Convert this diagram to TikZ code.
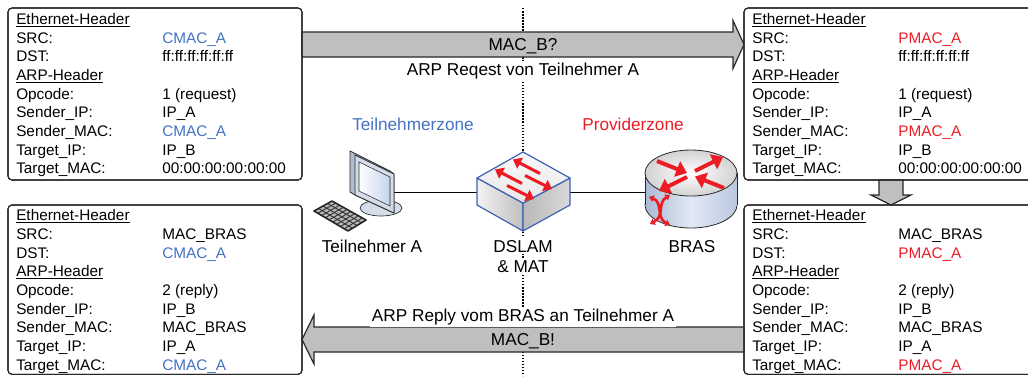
\documentclass[tikz,border=0pt]{standalone}
\usepackage{fontspec}
\setmainfont{Liberation Sans}
\usetikzlibrary{calc,arrows.meta}

\definecolor{subblue}{RGB}{68,114,196}
\definecolor{provred}{RGB}{237,28,36}
\definecolor{arrowgray}{RGB}{191,191,191}
\definecolor{framegray}{RGB}{40,40,40}
\definecolor{swblue}{RGB}{62,98,178}
\definecolor{monside}{RGB}{178,190,208}
\definecolor{monfront}{RGB}{212,220,234}
\definecolor{monscreen}{RGB}{196,212,236}
\definecolor{rtbodyL}{RGB}{170,186,212}
\definecolor{rtbodyM}{RGB}{226,233,244}
\definecolor{rtbodyR}{RGB}{186,200,224}

\newcommand{\hdr}[1]{\underline{#1}}
\newcommand{\cmac}{\textcolor{subblue}{CMAC\_A}}
\newcommand{\pmac}{\textcolor{provred}{PMAC\_A}}
\newcommand{\pkttab}[1]{\begin{tabular}{@{}p{109.5pt}@{}l@{}}#1\end{tabular}}

\begin{document}
\begin{tikzpicture}[x=0.75pt,y=-0.75pt,
  pkt/.style={draw=framegray, line width=0.8pt, rounded corners=3pt,
    minimum width=220.5pt, inner sep=0pt, outer sep=0pt, anchor=north west},
  pkttext/.style={inner sep=0pt, anchor=north west,
    font=\fontsize{11.5}{14}\selectfont},
  lbl/.style={inner sep=0pt, anchor=base, font=\fontsize{12.9}{15}\selectfont},
  fatarrow/.style={draw=framegray, line width=0.9pt, fill=arrowgray, line join=miter},
  divider/.style={line width=1.1pt, dash pattern=on 1.1pt off 1.2pt},
  link/.style={draw=black, line width=0.75pt},
  device/.style={draw=none, inner sep=0pt, outer sep=0pt},
  sarrow/.style={draw=provred, line width=2.3pt, -{Triangle[length=6pt,width=9pt]}},
  rarrow/.style={draw=provred, line width=3pt, -{Triangle[length=8pt,width=12pt]}},
  rsquig/.style={draw=provred, line width=2pt,
    {Triangle[length=3.5pt,width=5pt]}-{Triangle[length=3.5pt,width=5pt]}},
  swface/.style={draw=swblue, line width=0.9pt, line join=round},
  rtedge/.style={draw=framegray, line width=0.6pt}
]
\useasboundingbox (0,0) rectangle (1028,376);

% zone divider
\coordinate (divtop) at (523,8);
\coordinate (divbot) at (523,376);
\draw[divider] (divtop) -- (divbot);

% packet frames
\node[pkt, minimum height=129pt] (reqA) at (8,8) {};
\node[pkt, minimum height=129pt] (reqB) at (744,8) {};
\node[pkt, minimum height=127pt] (repA) at (8,205) {};
\node[pkt, minimum height=127pt] (repB) at (744,205) {};

% request arrow A -> B
\draw[fatarrow] ($(reqA.north east)+(0,24)$) -- ($(reqB.north west)+(-11,24)$)
  -- ($(reqB.north west)+(-11,12.5)$) -- ($(reqB.north west)+(0,36.5)$)
  -- ($(reqB.north west)+(-11,60.5)$) -- ($(reqB.north west)+(-11,49)$)
  -- ($(reqA.north east)+(0,49)$) -- cycle;
% translation arrow (MAT)
\draw[fatarrow] ($(reqB.south)+(-12,0)$) -- ($(repB.north)+(-12,-10)$)
  -- ($(repB.north)+(-20,-10)$) -- (repB.north) -- ($(repB.north)+(20,-10)$)
  -- ($(repB.north)+(12,-10)$) -- ($(reqB.south)+(12,0)$) -- cycle;
% reply arrow B -> A
\draw[fatarrow] ($(repB.north west)+(0,122)$) -- ($(repA.north east)+(12,122)$)
  -- ($(repA.north east)+(12,110)$) -- ($(repA.north east)+(0,134.5)$)
  -- ($(repA.north east)+(12,159)$) -- ($(repA.north east)+(12,147)$)
  -- ($(repB.north west)+(0,147)$) -- cycle;

% redraw frames above the arrow ends
\draw[draw=framegray, line width=0.8pt, rounded corners=3pt] (reqA.north west) rectangle (reqA.south east);
\draw[draw=framegray, line width=0.8pt, rounded corners=3pt] (reqB.north west) rectangle (reqB.south east);
\draw[draw=framegray, line width=0.8pt, rounded corners=3pt] (repA.north west) rectangle (repA.south east);
\draw[draw=framegray, line width=0.8pt, rounded corners=3pt] (repB.north west) rectangle (repB.south east);

% arrow captions
\node[lbl] (reqmsg) at (523,50) {MAC\_B?};
\node[lbl, fill=white, inner sep=1.5pt] (reqcap) at (523,75) {ARP Reqest von Teilnehmer A};
\node[lbl, fill=white, inner sep=1.5pt] (repcap) at (523,321.5) {ARP Reply vom BRAS an Teilnehmer A};
\node[lbl] (repmsg) at (523,345.5) {MAC\_B!};

% zone captions
\node[lbl, text=subblue] (zoneA) at (413,130) {Teilnehmerzone};
\node[lbl, text=provred] (zoneB) at (633,130) {Providerzone};

% device placeholders and links
\node[device, minimum width=60pt, minimum height=60pt] (pc) at (353,192) {};
\node[device, minimum width=69.75pt, minimum height=59pt] (dslam) at (523.5,192) {};
\node[device, minimum width=69pt, minimum height=60pt] (bras) at (691,192) {};
\draw[link] (pc.east) -- (dslam.west);
\draw[link] (dslam.east) -- (bras.west);

% ---- subscriber PC ----
\draw[draw=framegray, line width=0.5pt, fill=monfront] (381,208) ellipse [x radius=21, y radius=8];
\draw[draw=framegray, line width=0.6pt, fill=monside, line join=round]
  (350,151) -- (390,171) -- (394,174) -- (394,213) -- (355,195) -- (350,192) -- cycle;
\draw[draw=framegray, line width=0.6pt, fill=monfront, line join=round]
  (355,155) -- (394,174) -- (394,213) -- (355,195) -- cycle;
\draw[draw=framegray, line width=0.4pt, left color=white, right color=monscreen]
  (359,162) -- (390,177) -- (390,206) -- (359,191) -- cycle;
% keyboard
\coordinate (kbA) at (314,211);
\coordinate (kbB) at (332,201);
\coordinate (kbC) at (366,220);
\coordinate (kbD) at (348,231);
\fill[gray!55] (kbA) -- (kbB) -- (kbC) -- (kbD) -- cycle;
\foreach \i in {1,2,3}
  \draw[black!80, line width=0.7pt] ($(kbA)!\i/4!(kbB)$) -- ($(kbD)!\i/4!(kbC)$);
\foreach \j in {1,...,8}
  \draw[black!80, line width=0.7pt] ($(kbA)!\j/9!(kbD)$) -- ($(kbB)!\j/9!(kbC)$);
\draw[black!85, line width=1.2pt, line join=round] (kbA) -- (kbB) -- (kbC) -- (kbD) -- cycle;

% ---- DSLAM switch ----
\draw[swface, left color=gray!10, right color=gray!50]
  (477,178) -- (523,203) -- (523,231) -- (477,205) -- cycle;
\draw[swface, left color=gray!55, right color=gray!30]
  (523,203) -- (570,178) -- (570,205) -- (523,231) -- cycle;
\draw[swface, top color=gray!5, bottom color=gray!18]
  (523,152) -- (570,178) -- (523,203) -- (477,178) -- cycle;
\draw[sarrow] (540,173.5) -- (513,159.5);
\draw[sarrow] (522,183.5) -- (495,169.5);
\draw[sarrow] (525,175.5) -- (552,189);
\draw[sarrow] (507,185.5) -- (534,199);

% ---- BRAS router ----
\draw[rtedge, left color=rtbodyL, right color=rtbodyR, middle color=rtbodyM]
  (691,205) ellipse [x radius=46, y radius=23];
\shade[left color=rtbodyL, right color=rtbodyR, middle color=rtbodyM]
  (645,173) rectangle (737,205);
\draw[rtedge] (645,173) -- (645,205);
\draw[rtedge] (737,173) -- (737,205);
\draw[rtedge, inner color=white, outer color=gray!35]
  (691,173) ellipse [x radius=46, y radius=23];
\draw[rarrow] (657,161) -- (687,173);
\draw[rarrow] (695,171) -- (723,157);
\draw[rarrow] (687,177) -- (659,191);
\draw[rarrow] (724,188) -- (695,176.5);
\draw[rsquig] (649,197) .. controls (663,202) and (656,218) .. (670,225);
\draw[rsquig] (670,195) .. controls (657,203) and (665,216) .. (650,224);

% device captions
\node[lbl] (pclbl) at (372,252) {Teilnehmer A};
\node[lbl, fill=white, inner sep=1.5pt] (dslamlbl) at (523,252) {DSLAM};
\node[lbl, fill=white, inner sep=1.5pt] (matlbl) at (523,272) {\& MAT};
\node[lbl] (braslbl) at (692,252) {BRAS};

% ---- packet contents ----
\node[pkttext] (reqAtxt) at ($(reqA.north west)+(8,3.2)$) {\pkttab{%
  \hdr{Ethernet-Header} & \\
  SRC: & \cmac \\
  DST: & ff:ff:ff:ff:ff:ff \\
  \hdr{ARP-Header} & \\
  Opcode: & 1 (request) \\
  Sender\_IP: & IP\_A \\
  Sender\_MAC: & \cmac \\
  Target\_IP: & IP\_B \\
  Target\_MAC: & 00:00:00:00:00:00}};

\node[pkttext] (reqBtxt) at ($(reqB.north west)+(8,3.2)$) {\pkttab{%
  \hdr{Ethernet-Header} & \\
  SRC: & \pmac \\
  DST: & ff:ff:ff:ff:ff:ff \\
  \hdr{ARP-Header} & \\
  Opcode: & 1 (request) \\
  Sender\_IP: & IP\_A \\
  Sender\_MAC: & \pmac \\
  Target\_IP: & IP\_B \\
  Target\_MAC: & 00:00:00:00:00:00}};

\node[pkttext] (repAtxt) at ($(repA.north west)+(8,2.4)$) {\pkttab{%
  \hdr{Ethernet-Header} & \\
  SRC: & MAC\_BRAS \\
  DST: & \cmac \\
  \hdr{ARP-Header} & \\
  Opcode: & 2 (reply) \\
  Sender\_IP: & IP\_B \\
  Sender\_MAC: & MAC\_BRAS \\
  Target\_IP: & IP\_A \\
  Target\_MAC: & \cmac}};

\node[pkttext] (repBtxt) at ($(repB.north west)+(8,2.4)$) {\pkttab{%
  \hdr{Ethernet-Header} & \\
  SRC: & MAC\_BRAS \\
  DST: & \pmac \\
  \hdr{ARP-Header} & \\
  Opcode: & 2 (reply) \\
  Sender\_IP: & IP\_B \\
  Sender\_MAC: & MAC\_BRAS \\
  Target\_IP: & IP\_A \\
  Target\_MAC: & \pmac}};
\end{tikzpicture}
\end{document}
